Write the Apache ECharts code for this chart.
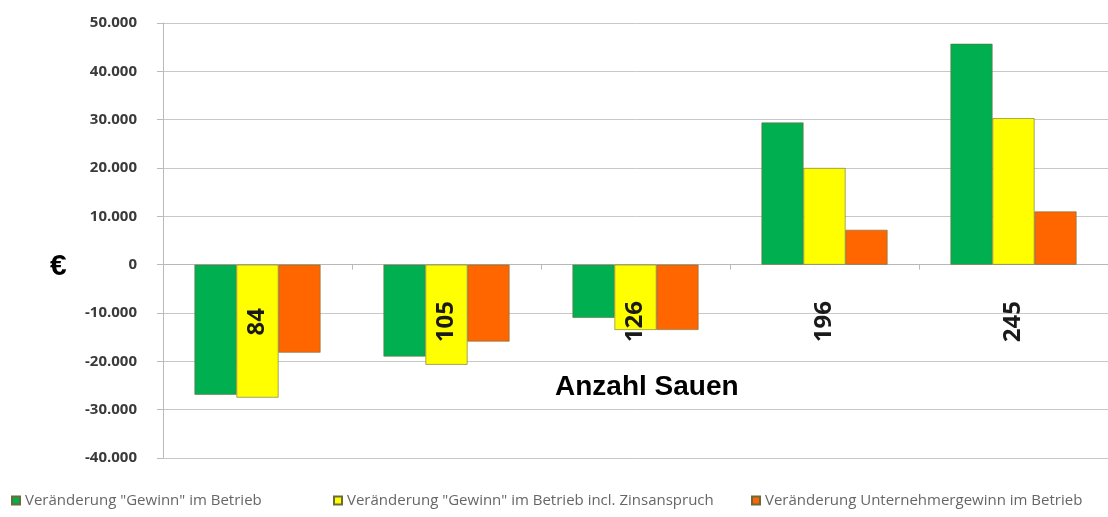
<!DOCTYPE html>
<html>
<head>
<meta charset="utf-8">
<script src="https://cdn.jsdelivr.net/npm/echarts@6/dist/echarts.min.js"></script>
<style>
  html, body { margin: 0; padding: 0; background: #fff; }
  #chart { width: 1108px; height: 517px; }
</style>
</head>
<body>
<div id="chart"></div>
<script>
// Anzahl Sauen
const categories = ['84', '105', '126', '196', '245'];

const seriesNames = [
  'Veränderung "Gewinn" im Betrieb',
  'Veränderung "Gewinn" im Betrieb incl. Zinsanspruch',
  'Veränderung Unternehmergewinn im Betrieb'
];

const gewinn = [-26900, -19000, -11000, 29400, 45700];
const gewinnZins = [-27500, -20700, -13500, 20000, 30300];
const unternehmergewinn = [-18200, -15900, -13500, 7200, 11000];

const yTicks = { min: -40000, max: 50000, interval: 10000 };

const colors = ['#00b050', '#ffff00', '#ff6600'];

const chart = echarts.init(document.getElementById('chart'));

// deutsche Tausendertrennung
const fmt = (v) => {
  if (v === 0) return '0';
  const s = Math.abs(v).toString().replace(/\B(?=(\d{3})+(?!\d))/g, '.');
  return (v < 0 ? '-' : '') + s;
};

const makeSeries = (name, data, i) => ({
  name: name,
  type: 'bar',
  data: data,
  barWidth: 42,
  barGap: '0%',
  z: 2,
  itemStyle: { color: colors[i], borderColor: '#6b6b3a', borderWidth: 0.6 }
});

const legendBase = {
  bottom: 4,
  itemWidth: 8,
  itemHeight: 8,
  itemGap: 4,
  icon: 'rect',
  textStyle: { fontFamily: 'Open Sans', fontSize: 15, color: '#666' },
  selectedMode: false
};

// grid: oben 23, unten 458 -> Nulllinie bei 265
const gridTop = 23, gridBottom = 59, plotH = 517 - gridTop - gridBottom;
const zeroOffset = plotH * (0 - yTicks.min) / (yTicks.max - yTicks.min);

chart.setOption({
  backgroundColor: '#fff',
  animation: false,
  grid: { left: 163, right: 0, top: gridTop, bottom: gridBottom, containLabel: false, outerBoundsMode: 'none' },
  legend: [
    Object.assign({}, legendBase, { left: 6, data: [seriesNames[0]] }),
    Object.assign({}, legendBase, { left: 328, data: [seriesNames[1]] }),
    Object.assign({}, legendBase, { left: 746, data: [seriesNames[2]] })
  ],
  xAxis: [
    {
      type: 'category',
      data: categories,
      axisLine: { onZero: true, lineStyle: { color: '#b8b8b8' } },
      axisTick: { show: true, length: 5, lineStyle: { color: '#bbb' } },
      axisLabel: { show: false }
    },
    {
      // nur Beschriftung, unter der Nulllinie zentriert, über den Balken
      type: 'category',
      data: categories,
      position: 'bottom',
      offset: -zeroOffset,
      z: 10,
      axisLine: { show: false, onZero: false },
      axisTick: { show: false },
      axisLabel: {
        rotate: 90,
        align: 'center',
        margin: 57,
        fontFamily: 'Open Sans',
        fontSize: 24,
        fontWeight: 'bold',
        color: '#1a1a1a'
      }
    }
  ],
  yAxis: {
    type: 'value',
    min: yTicks.min,
    max: yTicks.max,
    interval: yTicks.interval,
    axisLine: { show: true, lineStyle: { color: '#bbb' } },
    axisTick: { show: true, length: 6, lineStyle: { color: '#bbb' } },
    splitLine: { lineStyle: { color: '#c8c8c8' } },
    axisLabel: {
      formatter: fmt,
      margin: 26,
      fontFamily: 'Open Sans',
      fontSize: 15,
      fontWeight: 'bold',
      color: '#3a3a3a'
    }
  },
  graphic: [
    {
      type: 'text',
      left: 555,
      top: 373,
      style: {
        text: 'Anzahl Sauen',
        font: 'bold 28px "Liberation Sans", Arial, sans-serif',
        fill: '#000'
      }
    },
    {
      type: 'text',
      left: 50,
      top: 252,
      style: {
        text: '€',
        font: 'bold 30px "Liberation Sans", Arial, sans-serif',
        fill: '#000'
      }
    }
  ],
  series: [
    makeSeries(seriesNames[0], gewinn, 0),
    makeSeries(seriesNames[1], gewinnZins, 1),
    makeSeries(seriesNames[2], unternehmergewinn, 2)
  ]
});
</script>
</body>
</html>
